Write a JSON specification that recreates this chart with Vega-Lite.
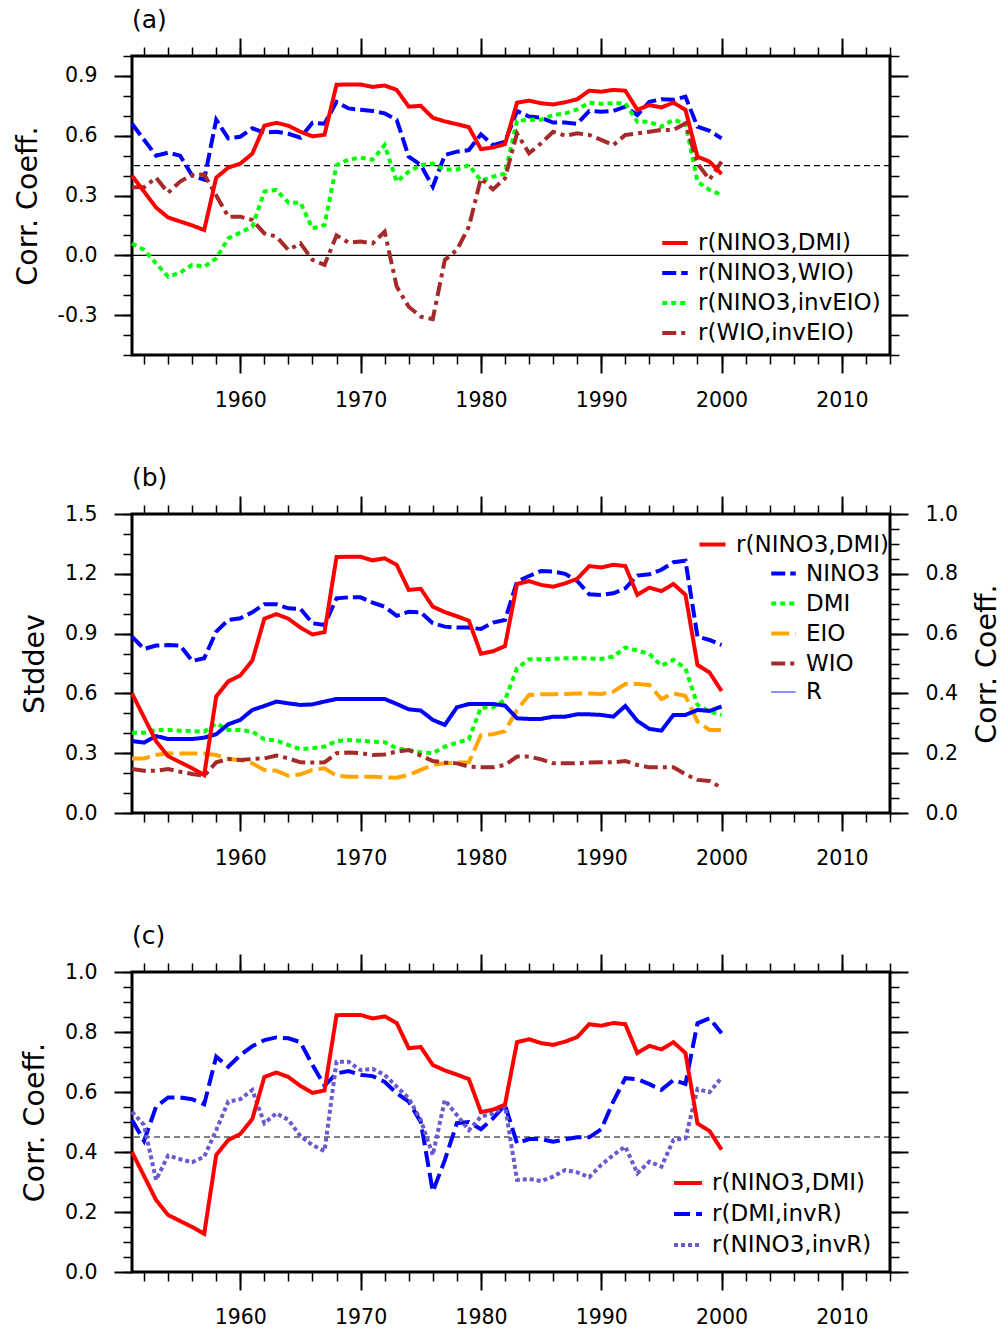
{
"$schema":"https://vega.github.io/schema/vega-lite/v6.json",
"padding":{"left":11,"top":6,"right":0,"bottom":0},
"background":"white",
"bounds":"flush",
"spacing":159,
"resolve":{"scale":{"x":"independent","y":"independent","color":"independent","strokeDash":"independent","strokeWidth":"independent"},"legend":{"color":"independent","strokeDash":"independent","strokeWidth":"independent"}},
"config":{
 "font":"DejaVu Sans",
 "view":{"stroke":"black","strokeWidth":3},
 "axis":{"domain":false,"grid":false,"tickColor":"black","tickWidth":2,"tickSize":18,"labelFont":"DejaVu Sans","labelFontSize":20.5,"labelColor":"black","labelPadding":17,"titleFont":"DejaVu Sans","titleFontSize":28.5,"titleFontWeight":"normal","titleColor":"black","titlePadding":15,"labelFlush":false,"labelOverlap":false},
 "legend":{"padding":0,"labelFont":"DejaVu Sans","labelFontSize":23,"labelColor":"black","symbolType":"stroke","symbolSize":700,"symbolStrokeWidth":4,"labelOffset":8,"rowPadding":3,"labelLimit":400},
 "title":{"font":"DejaVu Sans","fontSize":25,"fontWeight":"normal","color":"black","anchor":"start","frame":"group","offset":0},
 "line":{"strokeWidth":4,"strokeCap":"butt"}
},
"datasets":{
"red":[
{"year":1951,"s":"r(NINO3,DMI)","v":0.40},{"year":1952,"s":"r(NINO3,DMI)","v":0.32},{"year":1953,"s":"r(NINO3,DMI)","v":0.24},{"year":1954,"s":"r(NINO3,DMI)","v":0.19},{"year":1955,"s":"r(NINO3,DMI)","v":0.17},{"year":1956,"s":"r(NINO3,DMI)","v":0.15},{"year":1957,"s":"r(NINO3,DMI)","v":0.127},{"year":1958,"s":"r(NINO3,DMI)","v":0.39},{"year":1959,"s":"r(NINO3,DMI)","v":0.44},{"year":1960,"s":"r(NINO3,DMI)","v":0.46},
{"year":1961,"s":"r(NINO3,DMI)","v":0.51},{"year":1962,"s":"r(NINO3,DMI)","v":0.65},{"year":1963,"s":"r(NINO3,DMI)","v":0.665},{"year":1964,"s":"r(NINO3,DMI)","v":0.65},{"year":1965,"s":"r(NINO3,DMI)","v":0.62},{"year":1966,"s":"r(NINO3,DMI)","v":0.597},{"year":1967,"s":"r(NINO3,DMI)","v":0.605},{"year":1968,"s":"r(NINO3,DMI)","v":0.856},{"year":1969,"s":"r(NINO3,DMI)","v":0.857},{"year":1970,"s":"r(NINO3,DMI)","v":0.857},
{"year":1971,"s":"r(NINO3,DMI)","v":0.845},{"year":1972,"s":"r(NINO3,DMI)","v":0.852},{"year":1973,"s":"r(NINO3,DMI)","v":0.83},{"year":1974,"s":"r(NINO3,DMI)","v":0.746},{"year":1975,"s":"r(NINO3,DMI)","v":0.75},{"year":1976,"s":"r(NINO3,DMI)","v":0.69},{"year":1977,"s":"r(NINO3,DMI)","v":0.672},{"year":1978,"s":"r(NINO3,DMI)","v":0.658},{"year":1979,"s":"r(NINO3,DMI)","v":0.643},{"year":1980,"s":"r(NINO3,DMI)","v":0.533},
{"year":1981,"s":"r(NINO3,DMI)","v":0.541},{"year":1982,"s":"r(NINO3,DMI)","v":0.558},{"year":1983,"s":"r(NINO3,DMI)","v":0.766},{"year":1984,"s":"r(NINO3,DMI)","v":0.776},{"year":1985,"s":"r(NINO3,DMI)","v":0.763},{"year":1986,"s":"r(NINO3,DMI)","v":0.757},{"year":1987,"s":"r(NINO3,DMI)","v":0.768},{"year":1988,"s":"r(NINO3,DMI)","v":0.783},{"year":1989,"s":"r(NINO3,DMI)","v":0.826},{"year":1990,"s":"r(NINO3,DMI)","v":0.821},
{"year":1991,"s":"r(NINO3,DMI)","v":0.83},{"year":1992,"s":"r(NINO3,DMI)","v":0.826},{"year":1993,"s":"r(NINO3,DMI)","v":0.73},{"year":1994,"s":"r(NINO3,DMI)","v":0.754},{"year":1995,"s":"r(NINO3,DMI)","v":0.742},{"year":1996,"s":"r(NINO3,DMI)","v":0.766},{"year":1997,"s":"r(NINO3,DMI)","v":0.73},{"year":1998,"s":"r(NINO3,DMI)","v":0.495},{"year":1999,"s":"r(NINO3,DMI)","v":0.47},{"year":2000,"s":"r(NINO3,DMI)","v":0.408}
],
"a":[
{"year":1951,"s":"r(NINO3,WIO)","v":0.66},{"year":1952,"s":"r(NINO3,WIO)","v":0.58},{"year":1953,"s":"r(NINO3,WIO)","v":0.50},{"year":1954,"s":"r(NINO3,WIO)","v":0.515},{"year":1955,"s":"r(NINO3,WIO)","v":0.50},{"year":1956,"s":"r(NINO3,WIO)","v":0.40},{"year":1957,"s":"r(NINO3,WIO)","v":0.38},{"year":1958,"s":"r(NINO3,WIO)","v":0.68},{"year":1959,"s":"r(NINO3,WIO)","v":0.587},{"year":1960,"s":"r(NINO3,WIO)","v":0.595},
{"year":1961,"s":"r(NINO3,WIO)","v":0.637},{"year":1962,"s":"r(NINO3,WIO)","v":0.615},{"year":1963,"s":"r(NINO3,WIO)","v":0.62},{"year":1964,"s":"r(NINO3,WIO)","v":0.61},{"year":1965,"s":"r(NINO3,WIO)","v":0.59},{"year":1966,"s":"r(NINO3,WIO)","v":0.665},{"year":1967,"s":"r(NINO3,WIO)","v":0.66},{"year":1968,"s":"r(NINO3,WIO)","v":0.77},{"year":1969,"s":"r(NINO3,WIO)","v":0.737},{"year":1970,"s":"r(NINO3,WIO)","v":0.73},
{"year":1971,"s":"r(NINO3,WIO)","v":0.724},{"year":1972,"s":"r(NINO3,WIO)","v":0.712},{"year":1973,"s":"r(NINO3,WIO)","v":0.68},{"year":1974,"s":"r(NINO3,WIO)","v":0.495},{"year":1975,"s":"r(NINO3,WIO)","v":0.453},{"year":1976,"s":"r(NINO3,WIO)","v":0.344},{"year":1977,"s":"r(NINO3,WIO)","v":0.503},{"year":1978,"s":"r(NINO3,WIO)","v":0.52},{"year":1979,"s":"r(NINO3,WIO)","v":0.528},{"year":1980,"s":"r(NINO3,WIO)","v":0.607},
{"year":1981,"s":"r(NINO3,WIO)","v":0.553},{"year":1982,"s":"r(NINO3,WIO)","v":0.57},{"year":1983,"s":"r(NINO3,WIO)","v":0.724},{"year":1984,"s":"r(NINO3,WIO)","v":0.696},{"year":1985,"s":"r(NINO3,WIO)","v":0.69},{"year":1986,"s":"r(NINO3,WIO)","v":0.666},{"year":1987,"s":"r(NINO3,WIO)","v":0.666},{"year":1988,"s":"r(NINO3,WIO)","v":0.66},{"year":1989,"s":"r(NINO3,WIO)","v":0.724},{"year":1990,"s":"r(NINO3,WIO)","v":0.72},
{"year":1991,"s":"r(NINO3,WIO)","v":0.724},{"year":1992,"s":"r(NINO3,WIO)","v":0.746},{"year":1993,"s":"r(NINO3,WIO)","v":0.704},{"year":1994,"s":"r(NINO3,WIO)","v":0.77},{"year":1995,"s":"r(NINO3,WIO)","v":0.783},{"year":1996,"s":"r(NINO3,WIO)","v":0.78},{"year":1997,"s":"r(NINO3,WIO)","v":0.796},{"year":1998,"s":"r(NINO3,WIO)","v":0.645},{"year":1999,"s":"r(NINO3,WIO)","v":0.625},{"year":2000,"s":"r(NINO3,WIO)","v":0.587},
{"year":1951,"s":"r(NINO3,invEIO)","v":0.06},{"year":1952,"s":"r(NINO3,invEIO)","v":0.027},{"year":1953,"s":"r(NINO3,invEIO)","v":-0.04},{"year":1954,"s":"r(NINO3,invEIO)","v":-0.107},{"year":1955,"s":"r(NINO3,invEIO)","v":-0.087},{"year":1956,"s":"r(NINO3,invEIO)","v":-0.048},{"year":1957,"s":"r(NINO3,invEIO)","v":-0.057},{"year":1958,"s":"r(NINO3,invEIO)","v":-0.015},{"year":1959,"s":"r(NINO3,invEIO)","v":0.085},{"year":1960,"s":"r(NINO3,invEIO)","v":0.114},
{"year":1961,"s":"r(NINO3,invEIO)","v":0.144},{"year":1962,"s":"r(NINO3,invEIO)","v":0.32},{"year":1963,"s":"r(NINO3,invEIO)","v":0.328},{"year":1964,"s":"r(NINO3,invEIO)","v":0.264},{"year":1965,"s":"r(NINO3,invEIO)","v":0.264},{"year":1966,"s":"r(NINO3,invEIO)","v":0.135},{"year":1967,"s":"r(NINO3,invEIO)","v":0.152},{"year":1968,"s":"r(NINO3,invEIO)","v":0.453},{"year":1969,"s":"r(NINO3,invEIO)","v":0.48},{"year":1970,"s":"r(NINO3,invEIO)","v":0.49},
{"year":1971,"s":"r(NINO3,invEIO)","v":0.48},{"year":1972,"s":"r(NINO3,invEIO)","v":0.553},{"year":1973,"s":"r(NINO3,invEIO)","v":0.37},{"year":1974,"s":"r(NINO3,invEIO)","v":0.42},{"year":1975,"s":"r(NINO3,invEIO)","v":0.453},{"year":1976,"s":"r(NINO3,invEIO)","v":0.46},{"year":1977,"s":"r(NINO3,invEIO)","v":0.43},{"year":1978,"s":"r(NINO3,invEIO)","v":0.43},{"year":1979,"s":"r(NINO3,invEIO)","v":0.453},{"year":1980,"s":"r(NINO3,invEIO)","v":0.375},
{"year":1981,"s":"r(NINO3,invEIO)","v":0.395},{"year":1982,"s":"r(NINO3,invEIO)","v":0.41},{"year":1983,"s":"r(NINO3,invEIO)","v":0.675},{"year":1984,"s":"r(NINO3,invEIO)","v":0.68},{"year":1985,"s":"r(NINO3,invEIO)","v":0.68},{"year":1986,"s":"r(NINO3,invEIO)","v":0.704},{"year":1987,"s":"r(NINO3,invEIO)","v":0.712},{"year":1988,"s":"r(NINO3,invEIO)","v":0.732},{"year":1989,"s":"r(NINO3,invEIO)","v":0.766},{"year":1990,"s":"r(NINO3,invEIO)","v":0.76},
{"year":1991,"s":"r(NINO3,invEIO)","v":0.763},{"year":1992,"s":"r(NINO3,invEIO)","v":0.763},{"year":1993,"s":"r(NINO3,invEIO)","v":0.67},{"year":1994,"s":"r(NINO3,invEIO)","v":0.67},{"year":1995,"s":"r(NINO3,invEIO)","v":0.645},{"year":1996,"s":"r(NINO3,invEIO)","v":0.68},{"year":1997,"s":"r(NINO3,invEIO)","v":0.662},{"year":1998,"s":"r(NINO3,invEIO)","v":0.37},{"year":1999,"s":"r(NINO3,invEIO)","v":0.328},{"year":2000,"s":"r(NINO3,invEIO)","v":0.303},
{"year":1951,"s":"r(WIO,invEIO)","v":0.341},{"year":1952,"s":"r(WIO,invEIO)","v":0.341},{"year":1953,"s":"r(WIO,invEIO)","v":0.39},{"year":1954,"s":"r(WIO,invEIO)","v":0.314},{"year":1955,"s":"r(WIO,invEIO)","v":0.37},{"year":1956,"s":"r(WIO,invEIO)","v":0.403},{"year":1957,"s":"r(WIO,invEIO)","v":0.406},{"year":1958,"s":"r(WIO,invEIO)","v":0.30},{"year":1959,"s":"r(WIO,invEIO)","v":0.194},{"year":1960,"s":"r(WIO,invEIO)","v":0.194},
{"year":1961,"s":"r(WIO,invEIO)","v":0.177},{"year":1962,"s":"r(WIO,invEIO)","v":0.11},{"year":1963,"s":"r(WIO,invEIO)","v":0.094},{"year":1964,"s":"r(WIO,invEIO)","v":0.027},{"year":1965,"s":"r(WIO,invEIO)","v":0.06},{"year":1966,"s":"r(WIO,invEIO)","v":-0.023},{"year":1967,"s":"r(WIO,invEIO)","v":-0.048},{"year":1968,"s":"r(WIO,invEIO)","v":0.10},{"year":1969,"s":"r(WIO,invEIO)","v":0.064},{"year":1970,"s":"r(WIO,invEIO)","v":0.069},
{"year":1971,"s":"r(WIO,invEIO)","v":0.06},{"year":1972,"s":"r(WIO,invEIO)","v":0.119},{"year":1973,"s":"r(WIO,invEIO)","v":-0.157},{"year":1974,"s":"r(WIO,invEIO)","v":-0.258},{"year":1975,"s":"r(WIO,invEIO)","v":-0.308},{"year":1976,"s":"r(WIO,invEIO)","v":-0.32},{"year":1977,"s":"r(WIO,invEIO)","v":-0.023},{"year":1978,"s":"r(WIO,invEIO)","v":0.027},{"year":1979,"s":"r(WIO,invEIO)","v":0.144},{"year":1980,"s":"r(WIO,invEIO)","v":0.386},
{"year":1981,"s":"r(WIO,invEIO)","v":0.331},{"year":1982,"s":"r(WIO,invEIO)","v":0.386},{"year":1983,"s":"r(WIO,invEIO)","v":0.612},{"year":1984,"s":"r(WIO,invEIO)","v":0.512},{"year":1985,"s":"r(WIO,invEIO)","v":0.562},{"year":1986,"s":"r(WIO,invEIO)","v":0.62},{"year":1987,"s":"r(WIO,invEIO)","v":0.60},{"year":1988,"s":"r(WIO,invEIO)","v":0.612},{"year":1989,"s":"r(WIO,invEIO)","v":0.604},{"year":1990,"s":"r(WIO,invEIO)","v":0.579},
{"year":1991,"s":"r(WIO,invEIO)","v":0.553},{"year":1992,"s":"r(WIO,invEIO)","v":0.604},{"year":1993,"s":"r(WIO,invEIO)","v":0.612},{"year":1994,"s":"r(WIO,invEIO)","v":0.62},{"year":1995,"s":"r(WIO,invEIO)","v":0.629},{"year":1996,"s":"r(WIO,invEIO)","v":0.629},{"year":1997,"s":"r(WIO,invEIO)","v":0.662},{"year":1998,"s":"r(WIO,invEIO)","v":0.46},{"year":1999,"s":"r(WIO,invEIO)","v":0.38},{"year":2000,"s":"r(WIO,invEIO)","v":0.47}
],
"b":[
{"year":1951,"s":"NINO3","v":0.885},{"year":1952,"s":"NINO3","v":0.823},{"year":1953,"s":"NINO3","v":0.84},{"year":1954,"s":"NINO3","v":0.843},{"year":1955,"s":"NINO3","v":0.84},{"year":1956,"s":"NINO3","v":0.763},{"year":1957,"s":"NINO3","v":0.776},{"year":1958,"s":"NINO3","v":0.91},{"year":1959,"s":"NINO3","v":0.968},{"year":1960,"s":"NINO3","v":0.977},
{"year":1961,"s":"NINO3","v":1.007},{"year":1962,"s":"NINO3","v":1.047},{"year":1963,"s":"NINO3","v":1.047},{"year":1964,"s":"NINO3","v":1.027},{"year":1965,"s":"NINO3","v":1.024},{"year":1966,"s":"NINO3","v":0.952},{"year":1967,"s":"NINO3","v":0.943},{"year":1968,"s":"NINO3","v":1.077},{"year":1969,"s":"NINO3","v":1.082},{"year":1970,"s":"NINO3","v":1.082},
{"year":1971,"s":"NINO3","v":1.055},{"year":1972,"s":"NINO3","v":1.035},{"year":1973,"s":"NINO3","v":0.989},{"year":1974,"s":"NINO3","v":1.01},{"year":1975,"s":"NINO3","v":1.007},{"year":1976,"s":"NINO3","v":0.952},{"year":1977,"s":"NINO3","v":0.935},{"year":1978,"s":"NINO3","v":0.93},{"year":1979,"s":"NINO3","v":0.93},{"year":1980,"s":"NINO3","v":0.923},
{"year":1981,"s":"NINO3","v":0.955},{"year":1982,"s":"NINO3","v":0.968},{"year":1983,"s":"NINO3","v":1.161},{"year":1984,"s":"NINO3","v":1.189},{"year":1985,"s":"NINO3","v":1.214},{"year":1986,"s":"NINO3","v":1.211},{"year":1987,"s":"NINO3","v":1.2},{"year":1988,"s":"NINO3","v":1.164},{"year":1989,"s":"NINO3","v":1.097},{"year":1990,"s":"NINO3","v":1.094},
{"year":1991,"s":"NINO3","v":1.102},{"year":1992,"s":"NINO3","v":1.127},{"year":1993,"s":"NINO3","v":1.191},{"year":1994,"s":"NINO3","v":1.198},{"year":1995,"s":"NINO3","v":1.22},{"year":1996,"s":"NINO3","v":1.258},{"year":1997,"s":"NINO3","v":1.266},{"year":1998,"s":"NINO3","v":0.885},{"year":1999,"s":"NINO3","v":0.868},{"year":2000,"s":"NINO3","v":0.843},
{"year":1951,"s":"DMI","v":0.403},{"year":1952,"s":"DMI","v":0.403},{"year":1953,"s":"DMI","v":0.417},{"year":1954,"s":"DMI","v":0.417},{"year":1955,"s":"DMI","v":0.413},{"year":1956,"s":"DMI","v":0.411},{"year":1957,"s":"DMI","v":0.408},{"year":1958,"s":"DMI","v":0.45},{"year":1959,"s":"DMI","v":0.417},{"year":1960,"s":"DMI","v":0.417},
{"year":1961,"s":"DMI","v":0.408},{"year":1962,"s":"DMI","v":0.37},{"year":1963,"s":"DMI","v":0.363},{"year":1964,"s":"DMI","v":0.341},{"year":1965,"s":"DMI","v":0.32},{"year":1966,"s":"DMI","v":0.325},{"year":1967,"s":"DMI","v":0.333},{"year":1968,"s":"DMI","v":0.361},{"year":1969,"s":"DMI","v":0.366},{"year":1970,"s":"DMI","v":0.363},
{"year":1971,"s":"DMI","v":0.358},{"year":1972,"s":"DMI","v":0.355},{"year":1973,"s":"DMI","v":0.325},{"year":1974,"s":"DMI","v":0.316},{"year":1975,"s":"DMI","v":0.304},{"year":1976,"s":"DMI","v":0.30},{"year":1977,"s":"DMI","v":0.333},{"year":1978,"s":"DMI","v":0.353},{"year":1979,"s":"DMI","v":0.37},{"year":1980,"s":"DMI","v":0.529},
{"year":1981,"s":"DMI","v":0.53},{"year":1982,"s":"DMI","v":0.567},{"year":1983,"s":"DMI","v":0.726},{"year":1984,"s":"DMI","v":0.771},{"year":1985,"s":"DMI","v":0.771},{"year":1986,"s":"DMI","v":0.773},{"year":1987,"s":"DMI","v":0.776},{"year":1988,"s":"DMI","v":0.776},{"year":1989,"s":"DMI","v":0.776},{"year":1990,"s":"DMI","v":0.773},
{"year":1991,"s":"DMI","v":0.785},{"year":1992,"s":"DMI","v":0.83},{"year":1993,"s":"DMI","v":0.815},{"year":1994,"s":"DMI","v":0.798},{"year":1995,"s":"DMI","v":0.739},{"year":1996,"s":"DMI","v":0.768},{"year":1997,"s":"DMI","v":0.726},{"year":1998,"s":"DMI","v":0.542},{"year":1999,"s":"DMI","v":0.509},{"year":2000,"s":"DMI","v":0.492},
{"year":1951,"s":"EIO","v":0.274},{"year":1952,"s":"EIO","v":0.274},{"year":1953,"s":"EIO","v":0.291},{"year":1954,"s":"EIO","v":0.30},{"year":1955,"s":"EIO","v":0.298},{"year":1956,"s":"EIO","v":0.298},{"year":1957,"s":"EIO","v":0.298},{"year":1958,"s":"EIO","v":0.291},{"year":1959,"s":"EIO","v":0.271},{"year":1960,"s":"EIO","v":0.266},
{"year":1961,"s":"EIO","v":0.249},{"year":1962,"s":"EIO","v":0.216},{"year":1963,"s":"EIO","v":0.212},{"year":1964,"s":"EIO","v":0.187},{"year":1965,"s":"EIO","v":0.194},{"year":1966,"s":"EIO","v":0.216},{"year":1967,"s":"EIO","v":0.224},{"year":1968,"s":"EIO","v":0.187},{"year":1969,"s":"EIO","v":0.182},{"year":1970,"s":"EIO","v":0.182},
{"year":1971,"s":"EIO","v":0.182},{"year":1972,"s":"EIO","v":0.179},{"year":1973,"s":"EIO","v":0.177},{"year":1974,"s":"EIO","v":0.191},{"year":1975,"s":"EIO","v":0.216},{"year":1976,"s":"EIO","v":0.241},{"year":1977,"s":"EIO","v":0.249},{"year":1978,"s":"EIO","v":0.253},{"year":1979,"s":"EIO","v":0.254},{"year":1980,"s":"EIO","v":0.391},
{"year":1981,"s":"EIO","v":0.395},{"year":1982,"s":"EIO","v":0.411},{"year":1983,"s":"EIO","v":0.517},{"year":1984,"s":"EIO","v":0.592},{"year":1985,"s":"EIO","v":0.596},{"year":1986,"s":"EIO","v":0.596},{"year":1987,"s":"EIO","v":0.597},{"year":1988,"s":"EIO","v":0.60},{"year":1989,"s":"EIO","v":0.60},{"year":1990,"s":"EIO","v":0.597},
{"year":1991,"s":"EIO","v":0.609},{"year":1992,"s":"EIO","v":0.647},{"year":1993,"s":"EIO","v":0.647},{"year":1994,"s":"EIO","v":0.642},{"year":1995,"s":"EIO","v":0.572},{"year":1996,"s":"EIO","v":0.60},{"year":1997,"s":"EIO","v":0.587},{"year":1998,"s":"EIO","v":0.458},{"year":1999,"s":"EIO","v":0.417},{"year":2000,"s":"EIO","v":0.417},
{"year":1951,"s":"WIO","v":0.221},{"year":1952,"s":"WIO","v":0.212},{"year":1953,"s":"WIO","v":0.212},{"year":1954,"s":"WIO","v":0.221},{"year":1955,"s":"WIO","v":0.207},{"year":1956,"s":"WIO","v":0.196},{"year":1957,"s":"WIO","v":0.187},{"year":1958,"s":"WIO","v":0.254},{"year":1959,"s":"WIO","v":0.271},{"year":1960,"s":"WIO","v":0.266},
{"year":1961,"s":"WIO","v":0.271},{"year":1962,"s":"WIO","v":0.274},{"year":1963,"s":"WIO","v":0.288},{"year":1964,"s":"WIO","v":0.274},{"year":1965,"s":"WIO","v":0.254},{"year":1966,"s":"WIO","v":0.253},{"year":1967,"s":"WIO","v":0.254},{"year":1968,"s":"WIO","v":0.30},{"year":1969,"s":"WIO","v":0.304},{"year":1970,"s":"WIO","v":0.30},
{"year":1971,"s":"WIO","v":0.291},{"year":1972,"s":"WIO","v":0.294},{"year":1973,"s":"WIO","v":0.308},{"year":1974,"s":"WIO","v":0.316},{"year":1975,"s":"WIO","v":0.288},{"year":1976,"s":"WIO","v":0.261},{"year":1977,"s":"WIO","v":0.253},{"year":1978,"s":"WIO","v":0.249},{"year":1979,"s":"WIO","v":0.233},{"year":1980,"s":"WIO","v":0.229},
{"year":1981,"s":"WIO","v":0.229},{"year":1982,"s":"WIO","v":0.241},{"year":1983,"s":"WIO","v":0.283},{"year":1984,"s":"WIO","v":0.283},{"year":1985,"s":"WIO","v":0.269},{"year":1986,"s":"WIO","v":0.249},{"year":1987,"s":"WIO","v":0.249},{"year":1988,"s":"WIO","v":0.249},{"year":1989,"s":"WIO","v":0.253},{"year":1990,"s":"WIO","v":0.254},
{"year":1991,"s":"WIO","v":0.254},{"year":1992,"s":"WIO","v":0.261},{"year":1993,"s":"WIO","v":0.241},{"year":1994,"s":"WIO","v":0.229},{"year":1995,"s":"WIO","v":0.229},{"year":1996,"s":"WIO","v":0.229},{"year":1997,"s":"WIO","v":0.194},{"year":1998,"s":"WIO","v":0.166},{"year":1999,"s":"WIO","v":0.161},{"year":2000,"s":"WIO","v":0.127},
{"year":1951,"s":"R","v":0.361},{"year":1952,"s":"R","v":0.353},{"year":1953,"s":"R","v":0.386},{"year":1954,"s":"R","v":0.371},{"year":1955,"s":"R","v":0.371},{"year":1956,"s":"R","v":0.371},{"year":1957,"s":"R","v":0.378},{"year":1958,"s":"R","v":0.395},{"year":1959,"s":"R","v":0.445},{"year":1960,"s":"R","v":0.467},
{"year":1961,"s":"R","v":0.517},{"year":1962,"s":"R","v":0.537},{"year":1963,"s":"R","v":0.559},{"year":1964,"s":"R","v":0.55},{"year":1965,"s":"R","v":0.542},{"year":1966,"s":"R","v":0.545},{"year":1967,"s":"R","v":0.559},{"year":1968,"s":"R","v":0.572},{"year":1969,"s":"R","v":0.572},{"year":1970,"s":"R","v":0.572},
{"year":1971,"s":"R","v":0.572},{"year":1972,"s":"R","v":0.572},{"year":1973,"s":"R","v":0.547},{"year":1974,"s":"R","v":0.52},{"year":1975,"s":"R","v":0.514},{"year":1976,"s":"R","v":0.467},{"year":1977,"s":"R","v":0.442},{"year":1978,"s":"R","v":0.53},{"year":1979,"s":"R","v":0.547},{"year":1980,"s":"R","v":0.547},
{"year":1981,"s":"R","v":0.547},{"year":1982,"s":"R","v":0.539},{"year":1983,"s":"R","v":0.475},{"year":1984,"s":"R","v":0.472},{"year":1985,"s":"R","v":0.472},{"year":1986,"s":"R","v":0.483},{"year":1987,"s":"R","v":0.483},{"year":1988,"s":"R","v":0.495},{"year":1989,"s":"R","v":0.495},{"year":1990,"s":"R","v":0.492},
{"year":1991,"s":"R","v":0.483},{"year":1992,"s":"R","v":0.537},{"year":1993,"s":"R","v":0.462},{"year":1994,"s":"R","v":0.422},{"year":1995,"s":"R","v":0.413},{"year":1996,"s":"R","v":0.492},{"year":1997,"s":"R","v":0.492},{"year":1998,"s":"R","v":0.517},{"year":1999,"s":"R","v":0.512},{"year":2000,"s":"R","v":0.534}
],
"c":[
{"year":1951,"s":"r(DMI,invR)","v":0.507},{"year":1952,"s":"r(DMI,invR)","v":0.437},{"year":1953,"s":"r(DMI,invR)","v":0.551},{"year":1954,"s":"r(DMI,invR)","v":0.582},{"year":1955,"s":"r(DMI,invR)","v":0.582},{"year":1956,"s":"r(DMI,invR)","v":0.576},{"year":1957,"s":"r(DMI,invR)","v":0.559},{"year":1958,"s":"r(DMI,invR)","v":0.718},{"year":1959,"s":"r(DMI,invR)","v":0.684},{"year":1960,"s":"r(DMI,invR)","v":0.723},
{"year":1961,"s":"r(DMI,invR)","v":0.753},{"year":1962,"s":"r(DMI,invR)","v":0.773},{"year":1963,"s":"r(DMI,invR)","v":0.782},{"year":1964,"s":"r(DMI,invR)","v":0.779},{"year":1965,"s":"r(DMI,invR)","v":0.766},{"year":1966,"s":"r(DMI,invR)","v":0.69},{"year":1967,"s":"r(DMI,invR)","v":0.621},{"year":1968,"s":"r(DMI,invR)","v":0.662},{"year":1969,"s":"r(DMI,invR)","v":0.67},{"year":1970,"s":"r(DMI,invR)","v":0.657},
{"year":1971,"s":"r(DMI,invR)","v":0.653},{"year":1972,"s":"r(DMI,invR)","v":0.634},{"year":1973,"s":"r(DMI,invR)","v":0.596},{"year":1974,"s":"r(DMI,invR)","v":0.568},{"year":1975,"s":"r(DMI,invR)","v":0.50},{"year":1976,"s":"r(DMI,invR)","v":0.268},{"year":1977,"s":"r(DMI,invR)","v":0.373},{"year":1978,"s":"r(DMI,invR)","v":0.496},{"year":1979,"s":"r(DMI,invR)","v":0.50},{"year":1980,"s":"r(DMI,invR)","v":0.476},
{"year":1981,"s":"r(DMI,invR)","v":0.512},{"year":1982,"s":"r(DMI,invR)","v":0.557},{"year":1983,"s":"r(DMI,invR)","v":0.429},{"year":1984,"s":"r(DMI,invR)","v":0.443},{"year":1985,"s":"r(DMI,invR)","v":0.443},{"year":1986,"s":"r(DMI,invR)","v":0.434},{"year":1987,"s":"r(DMI,invR)","v":0.442},{"year":1988,"s":"r(DMI,invR)","v":0.449},{"year":1989,"s":"r(DMI,invR)","v":0.449},{"year":1990,"s":"r(DMI,invR)","v":0.476},
{"year":1991,"s":"r(DMI,invR)","v":0.568},{"year":1992,"s":"r(DMI,invR)","v":0.646},{"year":1993,"s":"r(DMI,invR)","v":0.643},{"year":1994,"s":"r(DMI,invR)","v":0.626},{"year":1995,"s":"r(DMI,invR)","v":0.607},{"year":1996,"s":"r(DMI,invR)","v":0.64},{"year":1997,"s":"r(DMI,invR)","v":0.627},{"year":1998,"s":"r(DMI,invR)","v":0.829},{"year":1999,"s":"r(DMI,invR)","v":0.846},{"year":2000,"s":"r(DMI,invR)","v":0.796},
{"year":1951,"s":"r(NINO3,invR)","v":0.534},{"year":1952,"s":"r(NINO3,invR)","v":0.49},{"year":1953,"s":"r(NINO3,invR)","v":0.307},{"year":1954,"s":"r(NINO3,invR)","v":0.388},{"year":1955,"s":"r(NINO3,invR)","v":0.376},{"year":1956,"s":"r(NINO3,invR)","v":0.366},{"year":1957,"s":"r(NINO3,invR)","v":0.384},{"year":1958,"s":"r(NINO3,invR)","v":0.473},{"year":1959,"s":"r(NINO3,invR)","v":0.568},{"year":1960,"s":"r(NINO3,invR)","v":0.576},
{"year":1961,"s":"r(NINO3,invR)","v":0.607},{"year":1962,"s":"r(NINO3,invR)","v":0.496},{"year":1963,"s":"r(NINO3,invR)","v":0.529},{"year":1964,"s":"r(NINO3,invR)","v":0.507},{"year":1965,"s":"r(NINO3,invR)","v":0.453},{"year":1966,"s":"r(NINO3,invR)","v":0.423},{"year":1967,"s":"r(NINO3,invR)","v":0.403},{"year":1968,"s":"r(NINO3,invR)","v":0.701},{"year":1969,"s":"r(NINO3,invR)","v":0.701},{"year":1970,"s":"r(NINO3,invR)","v":0.673},
{"year":1971,"s":"r(NINO3,invR)","v":0.677},{"year":1972,"s":"r(NINO3,invR)","v":0.657},{"year":1973,"s":"r(NINO3,invR)","v":0.618},{"year":1974,"s":"r(NINO3,invR)","v":0.579},{"year":1975,"s":"r(NINO3,invR)","v":0.507},{"year":1976,"s":"r(NINO3,invR)","v":0.39},{"year":1977,"s":"r(NINO3,invR)","v":0.573},{"year":1978,"s":"r(NINO3,invR)","v":0.523},{"year":1979,"s":"r(NINO3,invR)","v":0.473},{"year":1980,"s":"r(NINO3,invR)","v":0.518},
{"year":1981,"s":"r(NINO3,invR)","v":0.529},{"year":1982,"s":"r(NINO3,invR)","v":0.553},{"year":1983,"s":"r(NINO3,invR)","v":0.307},{"year":1984,"s":"r(NINO3,invR)","v":0.31},{"year":1985,"s":"r(NINO3,invR)","v":0.303},{"year":1986,"s":"r(NINO3,invR)","v":0.318},{"year":1987,"s":"r(NINO3,invR)","v":0.34},{"year":1988,"s":"r(NINO3,invR)","v":0.332},{"year":1989,"s":"r(NINO3,invR)","v":0.316},{"year":1990,"s":"r(NINO3,invR)","v":0.357},
{"year":1991,"s":"r(NINO3,invR)","v":0.39},{"year":1992,"s":"r(NINO3,invR)","v":0.418},{"year":1993,"s":"r(NINO3,invR)","v":0.329},{"year":1994,"s":"r(NINO3,invR)","v":0.368},{"year":1995,"s":"r(NINO3,invR)","v":0.351},{"year":1996,"s":"r(NINO3,invR)","v":0.44},{"year":1997,"s":"r(NINO3,invR)","v":0.446},{"year":1998,"s":"r(NINO3,invR)","v":0.61},{"year":1999,"s":"r(NINO3,invR)","v":0.599},{"year":2000,"s":"r(NINO3,invR)","v":0.648}
],
"ref0":[{"v":0}],
"ref45":[{"v":0.45}],
"dummy":[{"year":1960,"v":0.5}]
},
"vconcat":[
{
 "width":758,"height":299,
 "title":{"text":"(a)"},
 "resolve":{"axis":{"x":"independent","y":"independent"}},
 "layer":[
  {"data":{"name":"ref0"},"mark":{"type":"rule","color":"black","strokeWidth":1.2},
   "encoding":{"y":{"field":"v","type":"quantitative","scale":{"domain":[-0.5,1],"nice":false,"zero":false},"axis":null}}},
  {"data":{"name":"ref45"},"mark":{"type":"rule","color":"black","strokeWidth":1.2,"strokeDash":[6,4]},
   "encoding":{"y":{"field":"v","type":"quantitative","scale":{"domain":[-0.5,1],"nice":false,"zero":false},"axis":null}}},
  {"data":{"name":"a"},"mark":{"type":"line","strokeWidth":4},
   "encoding":{
    "x":{"field":"year","type":"quantitative","scale":{"domain":[1951,2014],"nice":false,"zero":false},"axis":{"orient":"bottom","values":[1960,1970,1980,1990,2000,2010],"format":"d","title":null}},
    "y":{"field":"v","type":"quantitative","scale":{"domain":[-0.5,1],"nice":false,"zero":false},"axis":{"orient":"left","values":[-0.3,0,0.3,0.6,0.9],"labelExpr":"datum.value < 0 ? '-' + format(-datum.value, '.1f') : format(datum.value, '.1f')","title":"Corr. Coeff."}},
    "color":{"field":"s","type":"nominal","scale":{"domain":["r(NINO3,DMI)","r(NINO3,WIO)","r(NINO3,invEIO)","r(WIO,invEIO)"],"range":["#ff0000","#0000ff","#00ff00","#a52a2a"]},"legend":{"orient":"none","legendX":528,"legendY":172,"title":null,"symbolSize":650}},
    "strokeDash":{"field":"s","type":"nominal","scale":{"domain":["r(NINO3,DMI)","r(NINO3,WIO)","r(NINO3,invEIO)","r(WIO,invEIO)"],"range":[[1,0],[14,5],[5,4],[14,5,4,5]]},"legend":{"orient":"none","legendX":528,"legendY":172,"title":null,"symbolSize":650}}
   }},
  {"data":{"name":"red"},"mark":{"type":"line","strokeWidth":4},
   "encoding":{
    "x":{"field":"year","type":"quantitative","scale":{"domain":[1951,2014],"nice":false,"zero":false},"axis":null},
    "y":{"field":"v","type":"quantitative","scale":{"domain":[-0.5,1],"nice":false,"zero":false},"axis":null},
    "color":{"field":"s","type":"nominal","legend":{"orient":"none","legendX":528,"legendY":172,"title":null,"symbolSize":650}},
    "strokeDash":{"field":"s","type":"nominal","legend":{"orient":"none","legendX":528,"legendY":172,"title":null,"symbolSize":650}}
   }},
  {"data":{"name":"dummy"},"mark":{"type":"point","opacity":0},
   "encoding":{
    "x":{"field":"year","type":"quantitative","scale":{"domain":[1951,2014],"nice":false,"zero":false},"axis":{"orient":"bottom","values":[1952,1954,1956,1958,1960,1962,1964,1966,1968,1970,1972,1974,1976,1978,1980,1982,1984,1986,1988,1990,1992,1994,1996,1998,2000,2002,2004,2006,2008,2010,2012,2014],"labels":false,"title":null,"tickSize":9,"tickWidth":1.5}},
    "y":{"field":"v","type":"quantitative","scale":{"domain":[-0.5,1],"nice":false,"zero":false},"axis":{"orient":"left","values":[-0.5,-0.4,-0.3,-0.2,-0.1,0,0.1,0.2,0.3,0.4,0.5,0.6,0.7,0.8,0.9,1.0],"labels":false,"title":null,"tickSize":9,"tickWidth":1.5}}
   }},
  {"data":{"name":"dummy"},"mark":{"type":"point","opacity":0},
   "encoding":{
    "x":{"field":"year","type":"quantitative","scale":{"domain":[1951,2014],"nice":false,"zero":false},"axis":{"orient":"top","values":[1960,1970,1980,1990,2000,2010],"labels":false,"title":null}},
    "y":{"field":"v","type":"quantitative","scale":{"domain":[-0.5,1],"nice":false,"zero":false},"axis":{"orient":"right","values":[-0.3,0,0.3,0.6,0.9],"labels":false,"title":null}}
   }},
  {"data":{"name":"dummy"},"mark":{"type":"point","opacity":0},
   "encoding":{
    "x":{"field":"year","type":"quantitative","scale":{"domain":[1951,2014],"nice":false,"zero":false},"axis":{"orient":"top","values":[1952,1954,1956,1958,1960,1962,1964,1966,1968,1970,1972,1974,1976,1978,1980,1982,1984,1986,1988,1990,1992,1994,1996,1998,2000,2002,2004,2006,2008,2010,2012,2014],"labels":false,"title":null,"tickSize":9,"tickWidth":1.5}},
    "y":{"field":"v","type":"quantitative","scale":{"domain":[-0.5,1],"nice":false,"zero":false},"axis":{"orient":"right","values":[-0.5,-0.4,-0.3,-0.2,-0.1,0,0.1,0.2,0.3,0.4,0.5,0.6,0.7,0.8,0.9,1.0],"labels":false,"title":null,"tickSize":9,"tickWidth":1.5}}
   }}
 ]
},
{
 "width":758,"height":299,
 "title":{"text":"(b)"},
 "resolve":{"axis":{"x":"independent","y":"independent"},"scale":{"y":"independent","color":"independent","strokeDash":"independent","strokeWidth":"independent"}},
 "layer":[
  {"data":{"name":"b"},"mark":{"type":"line"},
   "encoding":{
    "x":{"field":"year","type":"quantitative","scale":{"domain":[1951,2014],"nice":false,"zero":false},"axis":{"orient":"bottom","values":[1960,1970,1980,1990,2000,2010],"format":"d","title":null}},
    "y":{"field":"v","type":"quantitative","scale":{"domain":[0,1.5],"nice":false,"zero":false},"axis":{"orient":"left","values":[0,0.3,0.6,0.9,1.2,1.5],"format":".1f","title":"Stddev"}},
    "color":{"field":"s","type":"nominal","scale":{"domain":["NINO3","DMI","EIO","WIO","R"],"range":["#0000ff","#00ff00","#ffa500","#a52a2a","#0000ff"]},"legend":{"orient":"none","legendX":637,"legendY":45,"title":null,"symbolSize":600}},
    "strokeDash":{"field":"s","type":"nominal","scale":{"domain":["NINO3","DMI","EIO","WIO","R"],"range":[[14,5],[5,4],[18,6],[14,5,4,5],[1,0]]},"legend":{"orient":"none","legendX":637,"legendY":45,"title":null,"symbolSize":600}},
    "strokeWidth":{"field":"s","type":"nominal","scale":{"type":"ordinal","domain":["NINO3","DMI","EIO","WIO","R"],"range":[4,4,4,4,1]},"legend":{"orient":"none","legendX":637,"legendY":45,"title":null,"symbolSize":600}}
   }},
  {"data":{"name":"red"},"mark":{"type":"line","strokeWidth":4},
   "encoding":{
    "x":{"field":"year","type":"quantitative","scale":{"domain":[1951,2014],"nice":false,"zero":false},"axis":null},
    "y":{"field":"v","type":"quantitative","scale":{"domain":[0,1],"nice":false,"zero":false},"axis":{"orient":"right","values":[0,0.2,0.4,0.6,0.8,1.0],"format":".1f","title":"Corr. Coeff.","titleAngle":270,"titleBaseline":"top"}},
    "color":{"field":"s","type":"nominal","scale":{"domain":["r(NINO3,DMI)"],"range":["#ff0000"]},"legend":{"orient":"none","legendX":565,"legendY":15,"title":null,"symbolSize":680}}
   }},
  {"data":{"name":"dummy"},"mark":{"type":"point","opacity":0},
   "encoding":{
    "x":{"field":"year","type":"quantitative","scale":{"domain":[1951,2014],"nice":false,"zero":false},"axis":{"orient":"bottom","values":[1952,1954,1956,1958,1960,1962,1964,1966,1968,1970,1972,1974,1976,1978,1980,1982,1984,1986,1988,1990,1992,1994,1996,1998,2000,2002,2004,2006,2008,2010,2012,2014],"labels":false,"title":null,"tickSize":9,"tickWidth":1.5}},
    "y":{"field":"v","type":"quantitative","scale":{"domain":[0,1.5],"nice":false,"zero":false},"axis":{"orient":"left","values":[0,0.1,0.2,0.3,0.4,0.5,0.6,0.7,0.8,0.9,1.0,1.1,1.2,1.3,1.4,1.5],"labels":false,"title":null,"tickSize":9,"tickWidth":1.5}}
   }},
  {"data":{"name":"dummy"},"mark":{"type":"point","opacity":0},
   "encoding":{
    "x":{"field":"year","type":"quantitative","scale":{"domain":[1951,2014],"nice":false,"zero":false},"axis":{"orient":"top","values":[1960,1970,1980,1990,2000,2010],"labels":false,"title":null}},
    "y":{"field":"v","type":"quantitative","scale":{"domain":[0,1],"nice":false,"zero":false},"axis":{"orient":"right","values":[0,0.05,0.1,0.15,0.2,0.25,0.3,0.35,0.4,0.45,0.5,0.55,0.6,0.65,0.7,0.75,0.8,0.85,0.9,0.95,1.0],"labels":false,"title":null,"tickSize":9,"tickWidth":1.5}}
   }},
  {"data":{"name":"dummy"},"mark":{"type":"point","opacity":0},
   "encoding":{
    "x":{"field":"year","type":"quantitative","scale":{"domain":[1951,2014],"nice":false,"zero":false},"axis":{"orient":"top","values":[1952,1954,1956,1958,1960,1962,1964,1966,1968,1970,1972,1974,1976,1978,1980,1982,1984,1986,1988,1990,1992,1994,1996,1998,2000,2002,2004,2006,2008,2010,2012,2014],"labels":false,"title":null,"tickSize":9,"tickWidth":1.5}}
   }}
 ]
},
{
 "width":758,"height":300,
 "title":{"text":"(c)"},
 "resolve":{"axis":{"x":"independent","y":"independent"}},
 "layer":[
  {"data":{"name":"ref45"},"mark":{"type":"rule","color":"black","strokeWidth":1.2,"strokeDash":[6,4]},
   "encoding":{"y":{"field":"v","type":"quantitative","scale":{"domain":[0,1],"nice":false,"zero":false},"axis":null}}},
  {"data":{"name":"c"},"mark":{"type":"line","strokeWidth":4},
   "encoding":{
    "x":{"field":"year","type":"quantitative","scale":{"domain":[1951,2014],"nice":false,"zero":false},"axis":{"orient":"bottom","values":[1960,1970,1980,1990,2000,2010],"format":"d","title":null}},
    "y":{"field":"v","type":"quantitative","scale":{"domain":[0,1],"nice":false,"zero":false},"axis":{"orient":"left","values":[0,0.2,0.4,0.6,0.8,1.0],"format":".1f","title":"Corr. Coeff."}},
    "color":{"field":"s","type":"nominal","scale":{"domain":["r(NINO3,DMI)","r(DMI,invR)","r(NINO3,invR)"],"range":["#ff0000","#0000ff","#6a5acd"]},"legend":{"orient":"none","legendX":540,"legendY":195,"title":null,"symbolSize":780}},
    "strokeDash":{"field":"s","type":"nominal","scale":{"domain":["r(NINO3,DMI)","r(DMI,invR)","r(NINO3,invR)"],"range":[[1,0],[16,6],[4,3]]},"legend":{"orient":"none","legendX":540,"legendY":195,"title":null,"symbolSize":780}}
   }},
  {"data":{"name":"red"},"mark":{"type":"line","strokeWidth":4},
   "encoding":{
    "x":{"field":"year","type":"quantitative","scale":{"domain":[1951,2014],"nice":false,"zero":false},"axis":null},
    "y":{"field":"v","type":"quantitative","scale":{"domain":[0,1],"nice":false,"zero":false},"axis":null},
    "color":{"field":"s","type":"nominal","legend":{"orient":"none","legendX":540,"legendY":195,"title":null,"symbolSize":780}},
    "strokeDash":{"field":"s","type":"nominal","legend":{"orient":"none","legendX":540,"legendY":195,"title":null,"symbolSize":780}}
   }},
  {"data":{"name":"dummy"},"mark":{"type":"point","opacity":0},
   "encoding":{
    "x":{"field":"year","type":"quantitative","scale":{"domain":[1951,2014],"nice":false,"zero":false},"axis":{"orient":"bottom","values":[1952,1954,1956,1958,1960,1962,1964,1966,1968,1970,1972,1974,1976,1978,1980,1982,1984,1986,1988,1990,1992,1994,1996,1998,2000,2002,2004,2006,2008,2010,2012,2014],"labels":false,"title":null,"tickSize":9,"tickWidth":1.5}},
    "y":{"field":"v","type":"quantitative","scale":{"domain":[0,1],"nice":false,"zero":false},"axis":{"orient":"left","values":[0,0.05,0.1,0.15,0.2,0.25,0.3,0.35,0.4,0.45,0.5,0.55,0.6,0.65,0.7,0.75,0.8,0.85,0.9,0.95,1.0],"labels":false,"title":null,"tickSize":9,"tickWidth":1.5}}
   }},
  {"data":{"name":"dummy"},"mark":{"type":"point","opacity":0},
   "encoding":{
    "x":{"field":"year","type":"quantitative","scale":{"domain":[1951,2014],"nice":false,"zero":false},"axis":{"orient":"top","values":[1960,1970,1980,1990,2000,2010],"labels":false,"title":null}},
    "y":{"field":"v","type":"quantitative","scale":{"domain":[0,1],"nice":false,"zero":false},"axis":{"orient":"right","values":[0,0.2,0.4,0.6,0.8,1.0],"labels":false,"title":null}}
   }},
  {"data":{"name":"dummy"},"mark":{"type":"point","opacity":0},
   "encoding":{
    "x":{"field":"year","type":"quantitative","scale":{"domain":[1951,2014],"nice":false,"zero":false},"axis":{"orient":"top","values":[1952,1954,1956,1958,1960,1962,1964,1966,1968,1970,1972,1974,1976,1978,1980,1982,1984,1986,1988,1990,1992,1994,1996,1998,2000,2002,2004,2006,2008,2010,2012,2014],"labels":false,"title":null,"tickSize":9,"tickWidth":1.5}},
    "y":{"field":"v","type":"quantitative","scale":{"domain":[0,1],"nice":false,"zero":false},"axis":{"orient":"right","values":[0,0.05,0.1,0.15,0.2,0.25,0.3,0.35,0.4,0.45,0.5,0.55,0.6,0.65,0.7,0.75,0.8,0.85,0.9,0.95,1.0],"labels":false,"title":null,"tickSize":9,"tickWidth":1.5}}
   }}
 ]
}
]
}
